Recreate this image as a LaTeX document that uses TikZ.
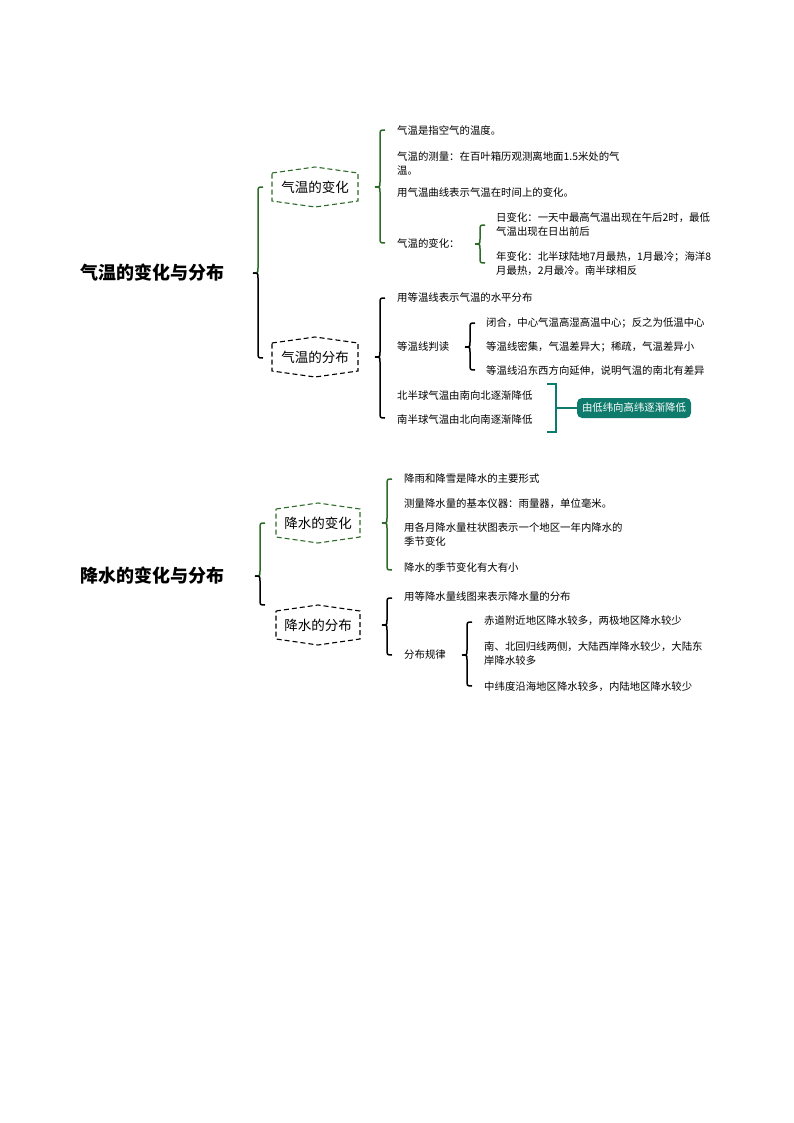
\documentclass[tikz,border=0pt]{standalone}
\usepackage{fontspec}
\setmainfont{Noto Sans CJK SC}
\begin{document}
\begin{tikzpicture}[x=1pt,y=-1pt,
  txt/.style={anchor=west,inner sep=0pt,font=\fontsize{10.4}{14}\selectfont,align=left},
  hexlabel/.style={inner sep=0pt,font=\fontsize{13.5}{15}\selectfont},
  ttl/.style={inner sep=0pt,font=\fontsize{18}{20}\selectfont\bfseries},
  brc/.style={line width=1.5pt},
  hexline/.style={dashed,dash pattern=on 5pt off 3pt,line width=1.1pt}]
\definecolor{gr}{HTML}{2E6B2A}
\definecolor{teal}{HTML}{0F7B6C}
\useasboundingbox (0,0) rectangle (794,1123);
\newcommand\halfbrace[5]{% x, yend, ymid, sign(+1 top / -1 bottom), color
  \draw[brc,#5] ({#1+5},#2) .. controls (#1,#2) .. (#1,{#2+6*#4}) -- (#1,{#3-5*#4}) .. controls (#1,#3) .. ({#1-5},#3);}
\newcommand\cbrace[6]{\halfbrace{#1}{#2}{#3}{1}{#5}\halfbrace{#1}{#4}{#3}{-1}{#6}}
\newcommand\hexa[5]{% cx cy hw hh color
  \draw[hexline,#5] ({#1-#3},{#2-#4+6}) -- (#1,{#2-#4}) -- ({#1+#3},{#2-#4+6}) -- ({#1+#3},{#2+#4-6}) -- (#1,{#2+#4}) -- ({#1-#3},{#2+#4-6}) -- cycle;}

% ===== section 1
\node[ttl] (t1) at (152,273) {气温的变化与分布};
\cbrace{258}{187}{273}{358}{gr}{black}
\node[hexlabel] (h1) at (315,187) {气温的变化};
\hexa{315}{187}{43}{20}{gr}
\node[hexlabel] (h2) at (315,357) {气温的分布};
\hexa{315}{357}{43}{20}{black}

\cbrace{380}{130}{187}{243}{gr}{gr}
\node[txt] (a1) at (397,131) {气温是指空气的温度。};
\node[txt] (a2) at (397,163) {气温的测量：在百叶箱历观测离地面1.5米处的气\\温。};
\node[txt] (a3) at (397,193) {用气温曲线表示气温在时间上的变化。};
\node[txt] (a4) at (397,244) {气温的变化：};
\cbrace{480}{225}{244}{263}{gr}{gr}
\node[txt] (a5) at (496,225) {日变化：一天中最高气温出现在午后2时，最低\\气温出现在日出前后};
\node[txt] (a6) at (496,264) {年变化：北半球陆地7月最热，1月最冷；海洋8\\月最热，2月最冷。南半球相反};

\cbrace{380}{298}{357}{418}{black}{black}
\node[txt] (b1) at (397,298) {用等温线表示气温的水平分布};
\node[txt] (b2) at (397,347) {等温线判读};
\cbrace{470}{323}{347}{370}{black}{black}
\node[txt] (b3) at (486,323) {闭合，中心气温高湿高温中心；反之为低温中心};
\node[txt] (b4) at (486,347) {等温线密集，气温差异大；稀疏，气温差异小};
\node[txt] (b5) at (486,371) {等温线沿东西方向延伸，说明气温的南北有差异};
\node[txt] (b6) at (397,396) {北半球气温由南向北逐渐降低};
\node[txt] (b7) at (397,420) {南半球气温由北向南逐渐降低};
\coordinate (bk) at (556,408);
\draw[teal,line width=1.2pt] (547,384) -- (556,384) -- (556,432) -- (547,432);
\node[fill=teal,text=white,rounded corners=5pt,inner xsep=5pt,minimum height=20pt,font=\fontsize{10.4}{12}\selectfont] (p1) at (634,408) {由低纬向高纬逐渐降低};
\draw[teal,line width=1.2pt] (bk) -- (p1.west);

% ===== section 2
\node[ttl] (t2) at (152,576) {降水的变化与分布};
\cbrace{260}{523}{576}{605}{gr}{black}
\node[hexlabel] (h3) at (318,523) {降水的变化};
\hexa{318}{523}{42}{20}{gr}
\node[hexlabel] (h4) at (318,625) {降水的分布};
\hexa{318}{625}{42}{20}{black}

\cbrace{387}{479}{523}{570}{gr}{gr}
\node[txt] (c1) at (404,479) {降雨和降雪是降水的主要形式};
\node[txt] (c2) at (404,504) {测量降水量的基本仪器：雨量器，单位毫米。};
\node[txt] (c3) at (404,535) {用各月降水量柱状图表示一个地区一年内降水的\\季节变化};
\node[txt] (c4) at (404,568) {降水的季节变化有大有小};

\cbrace{387}{598}{625}{655}{black}{black}
\node[txt] (d1) at (404,597) {用等降水量线图来表示降水量的分布};
\node[txt] (d2) at (404,655) {分布规律};
\cbrace{467}{622}{655}{686}{black}{black}
\node[txt] (d3) at (484,621) {赤道附近地区降水较多，两极地区降水较少};
\node[txt] (d4) at (484,654) {南、北回归线两侧，大陆西岸降水较少，大陆东\\岸降水较多};
\node[txt] (d5) at (484,687) {中纬度沿海地区降水较多，内陆地区降水较少};
\end{tikzpicture}
\end{document}
